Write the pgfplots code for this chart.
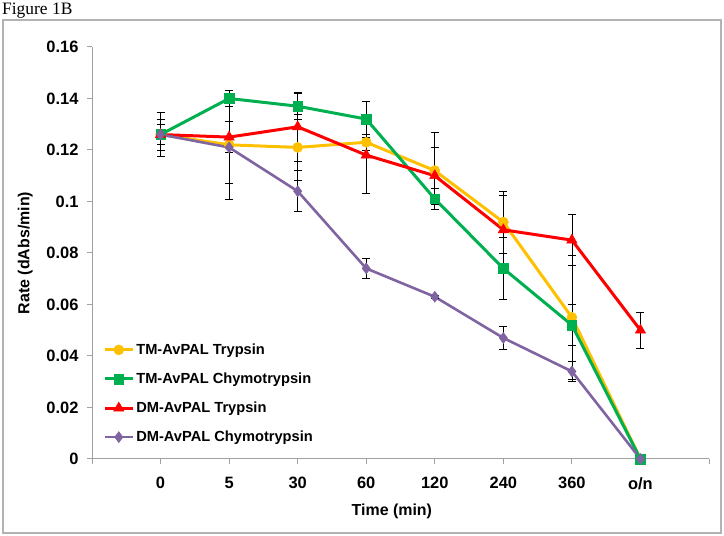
\documentclass[border=0pt]{standalone}
\usepackage{pgfplots}
\pgfplotsset{compat=1.18}
\usepackage{fontspec}
\setmainfont{Liberation Serif}
\setsansfont{Liberation Sans}
\definecolor{cyel}{HTML}{FFC000}
\definecolor{cgrn}{HTML}{00B050}
\definecolor{cred}{HTML}{FF0000}
\definecolor{cpur}{HTML}{8064A2}
\definecolor{axgray}{HTML}{A0A0A0}
\begin{document}
\begin{tikzpicture}[x=1bp,y=1bp]
\path[use as bounding box] (0,0) rectangle (724,536);
\draw[axgray!80, line width=1.2bp] (3,3) rectangle (721,516);
\node[anchor=base west, inner sep=0, font=\fontsize{17.5}{17.5}\selectfont] at (2,521) {Figure 1B};
\begin{axis}[
  at={(92bp,77bp)}, anchor=south west,
  scale only axis, width=617bp, height=412bp,
  xmin=0, xmax=9, ymin=0, ymax=0.16,
  axis lines*=left,
  axis line style={axgray, line width=1bp},
  tick style={axgray, line width=1bp},
  tick align=outside, major tick length=5bp,
  xtick={0,1,2,3,4,5,6,7,8,9},
  xticklabels={,0,5,30,60,120,240,360,o/n,},
  ytick={0,0.02,0.04,0.06,0.08,0.1,0.12,0.14,0.16},
  yticklabels={0,0.02,0.04,0.06,0.08,0.1,0.12,0.14,0.16},
  ticklabel style={font=\sffamily\bfseries\fontsize{16.5}{17}\selectfont, black},
  xticklabel style={yshift=-10bp},
  yticklabel style={xshift=-5bp},
  xlabel={Time (min)}, ylabel={Rate (dAbs/min)},
  label style={font=\sffamily\bfseries\fontsize{16}{16}\selectfont},
  xlabel style={at={(axis description cs:0.486,-0.128)}, anchor=center},
  ylabel style={at={(axis description cs:-0.108,0.5)}, anchor=center},
  legend style={at={(axis description cs:0.018,0.033)}, anchor=south west, draw=none, fill=none,
    font=\sffamily\bfseries\fontsize{14.7}{14.7}\selectfont, row sep=13bp, inner sep=0pt,
    legend cell align=left},
  legend image code/.code={\draw[mark repeat=2,mark phase=2] plot coordinates {(0bp,0bp)(14bp,0bp)(28bp,0bp)};},
  error bars/y dir=both, error bars/y explicit,
  error bars/error bar style={black, line width=0.8bp, solid},
  error bars/error mark options={black, line width=0.8bp, mark size=4bp, rotate=90},
  clip=false,
]
\addplot[cyel, line width=3bp, mark=*, mark size=5bp, mark options={fill=cyel, line width=0.5bp}]
 coordinates {(1,0.126)+-(0,0.004) (2,0.122)+-(0,0.015) (3,0.121)+-(0,0.013) (4,0.123)+-(0,0.003)
  (5,0.112)+-(0,0.015) (6,0.092)+-(0,0.012) (7,0.055)+-(0,0.024) (8,0)+-(0,0)};
\addlegendentry{TM-AvPAL Trypsin}
\addplot[cgrn, line width=3bp, mark=square*, mark size=4.8bp, mark options={fill=cgrn, line width=0.5bp}]
 coordinates {(1,0.126)+-(0,0.0085) (2,0.140)+-(0,0.003) (3,0.137)+-(0,0.005) (4,0.132)+-(0,0.007)
  (5,0.101)+-(0,0.004) (6,0.074)+-(0,0.012) (7,0.052)+-(0,0.008) (8,0)+-(0,0)};
\addlegendentry{TM-AvPAL Chymotrypsin}
\addplot[cred, line width=3bp, mark=triangle*, mark size=6bp, mark options={fill=cred, line width=0.5bp}]
 coordinates {(1,0.126)+-(0,0.006) (2,0.125)+-(0,0.006) (3,0.129)+-(0,0.0135) (4,0.118)+-(0,0.015)
  (5,0.110)+-(0,0.011) (6,0.089)+-(0,0.0135) (7,0.085)+-(0,0.0098) (8,0.050)+-(0,0.007)};
\addlegendentry{DM-AvPAL Trypsin}
\addplot[cpur, line width=2.6bp, mark=diamond*, mark size=5.5bp, mark options={fill=cpur, line width=0.5bp}]
 coordinates {(1,0.126)+-(0,0.002) (2,0.121)+-(0,0.020) (3,0.104)+-(0,0.008) (4,0.074)+-(0,0.004)
  (5,0.063)+-(0,0.0005) (6,0.047)+-(0,0.0045) (7,0.034)+-(0,0.004) (8,0)+-(0,0)};
\addlegendentry{DM-AvPAL Chymotrypsin}
\end{axis}
\end{tikzpicture}
\end{document}
